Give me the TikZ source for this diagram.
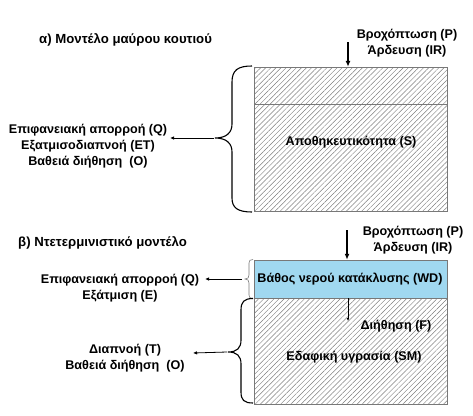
\documentclass[tikz,border=0pt]{standalone}
\usepackage{fontspec}
\setmainfont{Liberation Sans}
\usetikzlibrary{patterns.meta,arrows.meta}
\definecolor{wdblue}{RGB}{160,216,240}
\definecolor{boxgray}{RGB}{120,120,120}
\definecolor{hatchgray}{RGB}{125,125,125}
\tikzset{
  lbl/.style={font=\bfseries\fontsize{12.6}{16}\selectfont, align=center, inner sep=0pt},
  ttl/.style={font=\bfseries\fontsize{13.2}{15}\selectfont, anchor=west, inner sep=0pt},
  hatchbox/.style={draw=boxgray, line width=0.5pt, pattern={Lines[angle=45,distance=3.6pt,line width=0.45pt]}, pattern color=hatchgray},
  bracestyle/.style={line width=1.1pt, black},
  thickarrow/.style={line width=1.5pt, -{Latex[length=6pt,width=5pt]}},
  thinarrow/.style={line width=0.8pt, -{Latex[length=4pt,width=3.5pt]}},
}
\begin{document}
\begin{tikzpicture}[x=1pt,y=-1pt]
\useasboundingbox (0,0) rectangle (473,415);
% ---- part a ----
\node[ttl] (titleA) at (39,40) {α) Μοντέλο μαύρου κουτιού};
\node[lbl] (rainA) at (407,43) {Βροχόπτωση (P)\\Άρδευση (IR)};
\draw[hatchbox] (254,67) rectangle (447,211);
\draw[draw=boxgray, line width=0.5pt] (254,104) -- (447,104);
\node[inner sep=0pt, minimum width=193pt, minimum height=144pt] (boxA) at (350.5,139) {};
\node[lbl] (storA) at (351,142) {Αποθηκευτικότητα (S)};
\coordinate (rainAtop) at (348,42);
\draw[thickarrow] (rainAtop) -- (rainAtop |- boxA.north);
\draw[bracestyle] (252,66) .. controls (238,66) and (232,70) .. (232,82) -- (232,124)
  .. controls (232,133) and (226,138) .. (215,138)
  .. controls (226,138) and (232,143) .. (232,152) -- (232,198)
  .. controls (232,208) and (238,212) .. (252,212);
\coordinate (tipA) at (214,138);
\node[lbl] (outA) at (88,146) {Επιφανειακή απορροή (Q)\\Εξατμισοδιαπνοή (ΕΤ)\\Βαθειά διήθηση\ \ (Ο)};
\coordinate (endA) at (170,138);
\draw[thinarrow] (tipA) -- (endA);
% ---- part b ----
\node[ttl] (titleB) at (18,243) {β) Ντετερμινιστικό μοντέλο};
\node[lbl] (rainB) at (413,240) {Βροχόπτωση (P)\\Άρδευση (IR)};
\node[draw=boxgray, line width=0.5pt, fill=wdblue, minimum width=193pt, minimum height=38pt, inner sep=0pt] (wd) at (350.5,279) {};
\node[lbl] (wdtext) at (350,279) {Βάθος νερού κατάκλυσης (WD)};
\draw[hatchbox] (254,298) rectangle (447,404);
\node[inner sep=0pt, minimum width=193pt, minimum height=106pt] (soil) at (350.5,351) {};
\node[lbl] (smtext) at (354,357) {Εδαφική υγρασία (SM)};
\node[lbl] (ftext) at (396,326) {Διήθηση (F)};
\coordinate (rainBtop) at (347,230);
\draw[thickarrow] (rainBtop) -- (rainBtop |- wd.north);
\coordinate (fstart) at (348,298);
\coordinate (fend) at (348,321);
\draw[line width=0.5pt, -{Latex[length=3pt,width=2.5pt]}] (fstart) -- (fend);
% small brace
\draw[line width=0.6pt, boxgray] (253,259.5) .. controls (250,259.5) and (249,260.5) .. (249,263) -- (249,275)
  .. controls (249,277.5) and (248,279) .. (245,279)
  .. controls (248,279) and (249,280.5) .. (249,283) -- (249,295)
  .. controls (249,297.5) and (250,298.5) .. (253,298.5);
\coordinate (tipB) at (242,279);
\coordinate (endB) at (205,279);
\draw[thinarrow] (tipB) -- (endB);
\node[lbl] (outB) at (120,288) {Επιφανειακή απορροή (Q)\\Εξάτμιση (Ε)};
% lower brace
\draw[bracestyle] (253,298.5) .. controls (244,298.5) and (241,302) .. (241,310) -- (241,340)
  .. controls (241,348) and (237,352) .. (228,352)
  .. controls (237,352) and (241,356) .. (241,364) -- (241,392)
  .. controls (241,400) and (244,403) .. (253,403);
\coordinate (tipC) at (227,352);
\coordinate (endC) at (193,353);
\draw[thinarrow] (tipC) -- (endC);
\node[lbl] (outC) at (125,358) {Διαπνοή (Τ)\\Βαθειά διήθηση\ \ (Ο)};
\end{tikzpicture}
\end{document}
